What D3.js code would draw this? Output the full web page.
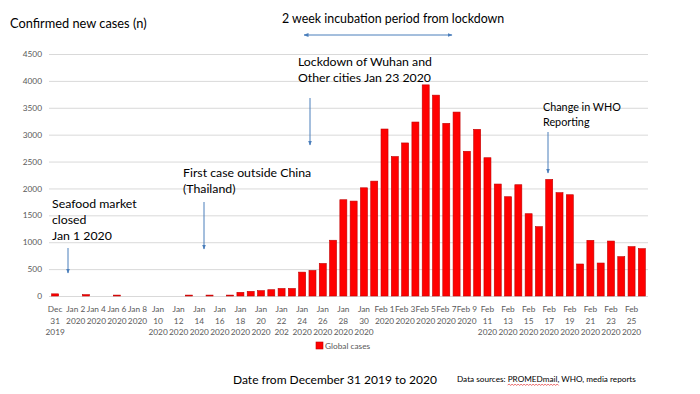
<!DOCTYPE html>
<html>
  <head>
    <meta charset="utf-8" />
    <title>Confirmed new cases</title>
    <style>
      body {
        margin: 0;
        background: #fff;
      }
      svg text {
        font-family: Lato, "Open Sans", sans-serif;
      }
      .tick-label {
        fill: #595959;
        font-size: 8.3px;
      }
      .note {
        fill: #000;
        font-size: 12.3px;
      }
      .pointer {
        stroke: #4a7ebb;
        stroke-width: 1;
      }
    </style>
  </head>
  <body>
    <svg id="chart"></svg>

    <script src="https://d3js.org/d3.v7.min.js"></script>
    <script>
      // one bar per day, Dec 31 2019 .. Feb 26 2020
      const days = [
        "Dec 31 2019",
        "Jan 1 2020", "Jan 2 2020", "Jan 3 2020", "Jan 4 2020", "Jan 5 2020",
        "Jan 6 2020", "Jan 7 2020", "Jan 8 2020", "Jan 9 2020", "Jan 10 2020",
        "Jan 11 2020", "Jan 12 2020", "Jan 13 2020", "Jan 14 2020", "Jan 15 2020",
        "Jan 16 2020", "Jan 17 2020", "Jan 18 2020", "Jan 19 2020", "Jan 20 2020",
        "Jan 21 2020", "Jan 22 2020", "Jan 23 2020", "Jan 24 2020", "Jan 25 2020",
        "Jan 26 2020", "Jan 27 2020", "Jan 28 2020", "Jan 29 2020", "Jan 30 2020",
        "Jan 31 2020",
        "Feb 1 2020", "Feb 2 2020", "Feb 3 2020", "Feb 4 2020", "Feb 5 2020",
        "Feb 6 2020", "Feb 7 2020", "Feb 8 2020", "Feb 9 2020", "Feb 10 2020",
        "Feb 11 2020", "Feb 12 2020", "Feb 13 2020", "Feb 14 2020", "Feb 15 2020",
        "Feb 16 2020", "Feb 17 2020", "Feb 18 2020", "Feb 19 2020", "Feb 20 2020",
        "Feb 21 2020", "Feb 22 2020", "Feb 23 2020", "Feb 24 2020", "Feb 25 2020",
        "Feb 26 2020",
      ];

      const globalCases = [
        40,
        0, 0, 25, 0, 0, 17, 0, 0, 0, 0,
        0, 0, 17, 0, 17, 0, 17, 68, 86, 99,
        117, 140, 140, 444, 475, 605, 1037, 1790, 1765, 2012,
        2136,
        3105, 2593, 2846, 3235, 3926, 3735, 3210, 3420, 2691, 3099,
        2571, 2082, 1846, 2069, 1530, 1289, 2168, 1921, 1883, 595,
        1035, 613, 1022, 731, 917, 880,
      ];

      // every second day gets a label, "|" = line break as wrapped in the original
      const tickLabels = [
        "Dec|31|2019", "Jan 2|2020", "Jan 4|2020", "Jan 6|2020", "Jan 8|2020",
        "Jan|10|2020", "Jan|12|2020", "Jan|14|2020", "Jan|16|2020", "Jan|18|2020",
        "Jan|20|2020", "Jan|22|202", "Jan|24|2020", "Jan|26|2020", "Jan|28|2020",
        "Jan|30|2020", "Feb 1|2020", "Feb 3|2020", "Feb 5|2020", "Feb 7|2020",
        "Feb 9|2020", "Feb|11|2020", "Feb|13|2020", "Feb|15|2020", "Feb|17|2020",
        "Feb|19|2020", "Feb|21|2020", "Feb|23|2020", "Feb|25|2020",
      ];

      const yTicks = [0, 500, 1000, 1500, 2000, 2500, 3000, 3500, 4000, 4500];

      const width = 700;
      const height = 394;

      const svg = d3.select("#chart").attr("width", width).attr("height", height);

      const x = d3
        .scaleBand()
        .domain(days)
        .range([50, 647])
        .paddingInner(0.32)
        .paddingOuter(0.16);

      const y = d3.scaleLinear().domain([0, 4500]).range([296, 54]);

      // gridlines + y labels
      const yAxis = svg
        .append("g")
        .attr("transform", "translate(49,0)")
        .call(
          d3
            .axisLeft(y)
            .tickValues(yTicks)
            .tickFormat(d3.format("d"))
            .tickSize(-599)
            .tickPadding(7)
        );
      yAxis.select(".domain").remove();
      yAxis.selectAll(".tick line").attr("stroke", "#d9d9d9");
      yAxis.selectAll(".tick text").attr("class", "tick-label");

      // bars
      svg
        .append("g")
        .selectAll("rect")
        .data(globalCases)
        .join("rect")
        .attr("x", (d, i) => x(days[i]))
        .attr("width", x.bandwidth())
        .attr("y", (d) => y(d))
        .attr("height", (d) => y(0) - y(d))
        .attr("fill", "#ff0000")
        .attr("stroke", "#c00000")
        .attr("stroke-width", 0.6);

      // x axis labels, wrapped over up to three lines
      const labelDays = days.filter((d, i) => i % 2 === 0);
      const xAxis = svg
        .append("g")
        .attr("transform", "translate(0,296)")
        .call(
          d3
            .axisBottom(x)
            .tickValues(labelDays)
            .tickSize(0)
            .tickFormat("")
        );
      xAxis.select(".domain").remove();
      xAxis.selectAll(".tick").each(function (d, i) {
        const t = d3
          .select(this)
          .append("text")
          .attr("class", "tick-label")
          .attr("text-anchor", "middle")
          .attr("y", 16);
        tickLabels[i].split("|").forEach((line, k) => {
          t.append("tspan")
            .attr("x", 0)
            .attr("dy", k === 0 ? 0 : 11.5)
            .text(line);
        });
      });

      // arrow markers
      const defs = svg.append("defs");
      defs
        .append("marker")
        .attr("id", "head")
        .attr("viewBox", "0 0 10 10")
        .attr("refX", 9)
        .attr("refY", 5)
        .attr("markerWidth", 5)
        .attr("markerHeight", 5)
        .attr("orient", "auto-start-reverse")
        .append("path")
        .attr("d", "M0,1 L10,5 L0,9 z")
        .attr("fill", "#4a7ebb");

      // titles
      svg
        .append("text")
        .attr("class", "note")
        .attr("x", 10)
        .attr("y", 28)
        .style("font-size", "12.8px")
        .text("Confirmed new cases (n)");

      svg
        .append("text")
        .attr("class", "note")
        .attr("x", 282)
        .attr("y", 23)
        .style("font-size", "12.4px")
        .text("2 week incubation period from lockdown");

      svg
        .append("line")
        .attr("class", "pointer")
        .attr("x1", 304)
        .attr("x2", 452)
        .attr("y1", 35)
        .attr("y2", 35)
        .attr("marker-start", "url(#head)")
        .attr("marker-end", "url(#head)");

      // annotations: lines of text + arrow
      const notes = [
        { lines: ["Lockdown of Wuhan and", "Other cities Jan 23 2020"], x: 298, y: 66, ax: 310, ay1: 98, ay2: 145 },
        { lines: ["First case outside China", "(Thailand)"], x: 183, y: 177, ax: 204, ay1: 202, ay2: 249 },
        { lines: ["Seafood market", "closed", "Jan 1 2020"], x: 52, y: 208, ax: 68, ay1: 248, ay2: 273 },
        { lines: ["Change in WHO", "Reporting"], x: 543, y: 111, ax: 548, ay1: 132, ay2: 173, small: true },
      ];

      notes.forEach((n) => {
        const t = svg
          .append("text")
          .attr("class", "note")
          .attr("x", n.x)
          .attr("y", n.y)
          .style("font-size", n.small ? "10.8px" : "12.3px");
        n.lines.forEach((line, k) => {
          t.append("tspan")
            .attr("x", n.x)
            .attr("dy", k === 0 ? 0 : n.small ? 15 : 16)
            .text(line);
        });
        svg
          .append("line")
          .attr("class", "pointer")
          .attr("x1", n.ax)
          .attr("x2", n.ax)
          .attr("y1", n.ay1)
          .attr("y2", n.ay2)
          .attr("marker-end", "url(#head)");
      });

      // legend
      svg
        .append("rect")
        .attr("x", 316)
        .attr("y", 342)
        .attr("width", 7)
        .attr("height", 7)
        .attr("fill", "#ff0000")
        .attr("stroke", "#c00000")
        .attr("stroke-width", 0.6);
      svg
        .append("text")
        .attr("class", "tick-label")
        .attr("x", 325)
        .attr("y", 349)
        .text("Global cases");

      // footer
      svg
        .append("text")
        .attr("class", "note")
        .attr("x", 233)
        .attr("y", 384)
        .style("font-size", "12px")
        .text("Date from December 31 2019 to 2020");

      const src = svg
        .append("text")
        .attr("x", 457)
        .attr("y", 382)
        .style("font-size", "8.2px")
        .attr("fill", "#000");
      src.append("tspan").text("Data sources: ");
      const prom = src.append("tspan").text("PROMEDmail");
      src.append("tspan").text(", WHO, media reports");

      // red squiggle under PROMEDmail, like the spell checker in the original
      const bb = prom.node().getExtentOfChar(0);
      const promW = prom.node().getComputedTextLength();
      const sq = d3.path();
      let px = bb.x;
      sq.moveTo(px, 385);
      let up = true;
      while (px < bb.x + promW) {
        px += 1.5;
        sq.lineTo(px, up ? 384 : 385.5);
        up = !up;
      }
      svg
        .append("path")
        .attr("d", sq.toString())
        .attr("fill", "none")
        .attr("stroke", "#e03030")
        .attr("stroke-width", 0.7);
    </script>
  </body>
</html>
